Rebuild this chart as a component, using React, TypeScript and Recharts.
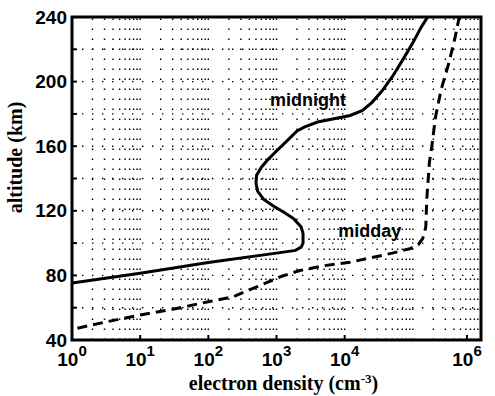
import { LineChart, Line, XAxis, YAxis, ReferenceLine, ReferenceArea, ReferenceDot } from 'recharts';

// perfil nocturno (medianoche)
const midnightDensity = [1, 10, 100, 1000, 1900, 2300, 2450, 2450, 2300, 1800, 1300, 900, 650, 530, 500, 510, 600, 760, 1000, 1400, 2000, 2600, 4000, 7000, 12000, 18000, 25000, 35000, 50000, 70000, 100000, 130000, 165000];
const midnightAltitude = [75.3, 81.3, 88, 93.8, 95.5, 97.5, 100, 106, 110, 115, 119, 123, 127, 132, 137, 142, 147, 152, 157, 163, 169.5, 172, 175, 177, 179, 182, 187, 194, 203, 213, 224, 233, 240];

// perfil diurno (mediodía)
const middayDensity = [1.2, 3, 10, 30, 100, 230, 400, 700, 1200, 2200, 5000, 12000, 25000, 50000, 90000, 120000, 140000, 155000, 160000, 175000, 190000, 215000, 260000, 340000, 420000, 480000];
const middayAltitude = [47.3, 51, 55.5, 59, 63.7, 66.7, 71, 75.3, 79.5, 83, 86, 88.2, 91, 93.8, 96.5, 99, 103, 110, 127, 150, 160, 178, 195, 212, 228, 240];

const xTicks = [1, 10, 100, 1000, 10000, 100000, 1000000];
const yTicks = [40, 60, 80, 100, 120, 140, 160, 180, 200, 220, 240];
const yLabelled = [40, 80, 120, 160, 200, 240];
const gridX = [2, 3, 4, 5, 6, 7, 8, 9, 10, 20, 30, 40, 50, 60, 70, 80, 90, 100, 200, 300, 400, 500, 600, 700, 800, 900, 1000, 2000, 3000, 4000, 5000, 6000, 7000, 8000, 9000, 10000, 20000, 30000, 40000, 50000, 60000, 70000, 80000, 90000, 100000, 200000, 300000, 400000, 500000, 600000, 700000, 800000, 900000];
const gridY = [60, 80, 100, 120, 140, 160, 180, 200, 220];

const midnight = midnightDensity.map((x, i) => ({ x, y: midnightAltitude[i] }));
const midday = middayDensity.map((x, i) => ({ x, y: middayAltitude[i] }));

const SANS = '"Liberation Sans", Arial, sans-serif';
const SERIF = '"Liberation Serif", "Times New Roman", serif';

function XTick(props: any) {
  const { x, y, payload } = props;
  const exp = Math.round(Math.log10(payload.value));
  return (
    <g>
      <line x1={x} x2={x} y1={y} y2={y - 5} stroke="#000" strokeWidth={2} />
      <text x={x} y={y + 26} textAnchor="middle" fontFamily={SANS} fontWeight="bold" fontSize={19} fill="#000">
        10<tspan dy={-10} fontSize={15}>{exp}</tspan>
      </text>
    </g>
  );
}

function YTick(props: any) {
  const { x, y, payload } = props;
  const showLabel = yLabelled.includes(payload.value);
  return (
    <g>
      <line x1={x} x2={x + 5} y1={y} y2={y} stroke="#000" strokeWidth={2} />
      {showLabel && (
        <text x={x - 5} y={y + 6.5} textAnchor="end" fontFamily={SANS} fontWeight="bold" fontSize={19} fill="#000">
          {payload.value}
        </text>
      )}
    </g>
  );
}

export default function App() {
  return (
    <div style={{ position: 'absolute', left: 0, top: 0, background: '#fff' }}>
      <LineChart width={495} height={396} margin={{ top: 17, right: 14, bottom: 0, left: 0 }}>
        <XAxis
          dataKey="x"
          type="number"
          scale="log"
          domain={[1, 1000000]}
          ticks={xTicks}
          allowDataOverflow
          axisLine={false}
          tickLine={false}
          tickSize={0}
          tickMargin={0}
          height={56}
          tick={<XTick />}
          label={{
            content: ({ viewBox }: any) => (
              <text
                x={viewBox.x + viewBox.width / 2 + 7}
                y={viewBox.y + 50}
                textAnchor="middle"
                fontFamily={SERIF}
                fontWeight="bold"
                fontSize={20}
                fill="#000"
              >
                electron density (cm<tspan dy={-7} fontSize={13}>-3</tspan>
                <tspan dy={7}>)</tspan>
              </text>
            ),
          }}
        />
        <YAxis
          dataKey="y"
          type="number"
          domain={[40, 240]}
          ticks={yTicks}
          allowDataOverflow
          axisLine={false}
          tickLine={false}
          tickSize={0}
          tickMargin={0}
          width={72}
          tick={<YTick />}
          label={{
            content: ({ viewBox }: any) => (
              <text
                transform={`translate(22, ${viewBox.y + viewBox.height / 2 - 21}) rotate(-90)`}
                textAnchor="middle"
                fontFamily={SERIF}
                fontWeight="bold"
                fontSize={20}
                fill="#000"
              >
                altitude (km)
              </text>
            ),
          }}
        />
        {gridX.map((v) => (
          <ReferenceLine key={'gx' + v} x={v} stroke="#000" strokeWidth={1.4} strokeDasharray="1.4 8.6" />
        ))}
        {gridY.map((v) => (
          <ReferenceLine key={'gy' + v} y={v} stroke="#000" strokeWidth={1.4} strokeDasharray="1.4 8.6" />
        ))}
        <Line
          data={midday}
          dataKey="y"
          type="linear"
          stroke="#000"
          strokeWidth={3}
          strokeDasharray="10 6"
          dot={false}
          activeDot={false}
          isAnimationActive={false}
        />
        <Line
          data={midnight}
          dataKey="y"
          type="linear"
          stroke="#000"
          strokeWidth={3}
          dot={false}
          activeDot={false}
          isAnimationActive={false}
        />
        <ReferenceDot
          x={2900}
          y={188.6}
          r={0}
          stroke="none"
          fill="none"
          label={{ value: 'midnight', position: 'center', fontFamily: SANS, fontWeight: 'bold', fontSize: 18, fill: '#000' }}
        />
        <ReferenceDot
          x={23400}
          y={107.5}
          r={0}
          stroke="none"
          fill="none"
          label={{ value: 'midday', position: 'center', fontFamily: SANS, fontWeight: 'bold', fontSize: 18, fill: '#000' }}
        />
        <ReferenceArea x1={1} x2={1000000} y1={40} y2={240} fill="none" stroke="#000" strokeWidth={3} />
      </LineChart>
    </div>
  );
}
